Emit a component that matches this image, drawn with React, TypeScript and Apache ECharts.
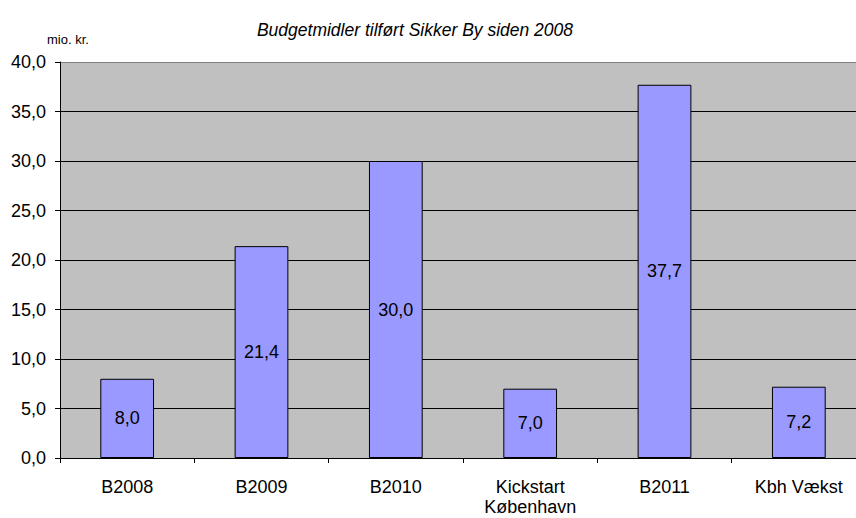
import React, { useEffect, useRef } from "react";
import * as echarts from "echarts";

const categories = ["B2008", "B2009", "B2010", "Kickstart\nKøbenhavn", "B2011", "Kbh Vækst"];
const values = [8.0, 21.4, 30.0, 7.0, 37.7, 7.2];
const titleText = "Budgetmidler tilført Sikker By siden 2008";
const unitText = "mio. kr.";

const fmt = (v: number) => v.toFixed(1).replace(".", ",");
const FONT = "'Liberation Sans', Arial, sans-serif";

export default function App() {
  const ref = useRef<HTMLDivElement>(null);
  useEffect(() => {
    const chart = echarts.init(ref.current!, null, { renderer: "svg" });
    chart.setOption({
      animation: false,
      backgroundColor: "#ffffff",
      textStyle: { fontFamily: FONT },
      title: {
        text: titleText,
        left: 410,
        top: 16,
        textAlign: "center",
        textStyle: { fontSize: 17.5, fontStyle: "italic", fontWeight: "normal", color: "#000", fontFamily: FONT },
      },
      graphic: [
        {
          type: "text",
          left: 47,
          top: 33,
          style: { text: unitText, fontSize: 13, fill: "#000", fontFamily: FONT },
        },
      ],
      grid: {
        left: 60,
        right: 0,
        top: 62,
        bottom: 60,
        show: true,
        backgroundColor: "#C0C0C0",
        borderWidth: 0,
      },
      xAxis: {
        type: "category",
        data: categories,
        axisLine: { show: true, lineStyle: { color: "#000", width: 1 } },
        axisTick: { show: true, length: 5, lineStyle: { color: "#000" } },
        axisLabel: { fontSize: 18, color: "#000", margin: 19, lineHeight: 20, fontFamily: FONT },
      },
      yAxis: {
        type: "value",
        min: 0,
        max: 40,
        interval: 5,
        axisLine: { show: true, lineStyle: { color: "#000", width: 1 } },
        axisTick: { show: true, length: 5, lineStyle: { color: "#000" } },
        axisLabel: { fontSize: 18, color: "#000", margin: 14, fontFamily: FONT, formatter: (v: number) => fmt(v) },
        splitLine: {
          show: true,
          lineStyle: {
            color: ["#000", "#000", "#000", "#000", "#000", "#000", "#000", "#000", "#808080"],
            width: 1,
          },
        },
      },
      series: [
        {
          type: "bar",
          data: values,
          barWidth: "40%",
          itemStyle: { color: "#9999FF", borderColor: "#000", borderWidth: 1 },
          label: {
            show: true,
            position: "inside",
            fontSize: 18,
            color: "#000",
            fontFamily: FONT,
            formatter: (p: any) => fmt(p.value),
          },
        },
      ],
    });
    return () => chart.dispose();
  }, []);
  return (
    <div style={{ width: 856, height: 518, position: "absolute", left: 0, top: 0, overflow: "hidden" }}>
      <div ref={ref} style={{ width: 866, height: 518 }} />
    </div>
  );
}
